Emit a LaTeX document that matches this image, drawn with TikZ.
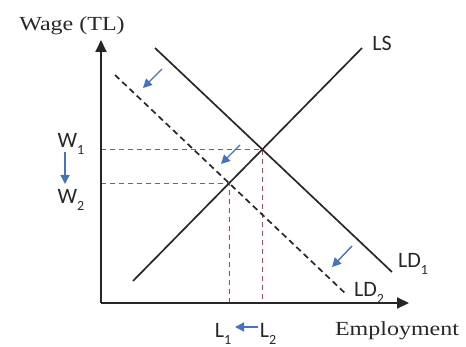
\documentclass[tikz,border=0pt]{standalone}
\usepackage{fontspec}
\setmainfont{Liberation Serif}
\newfontfamily\calib{Carlito}
\usetikzlibrary{arrows.meta}
\definecolor{ln}{RGB}{40,40,40}
\definecolor{rd}{RGB}{215,55,80}
\definecolor{bl}{RGB}{70,115,190}
\newcommand\sbs[1]{\raisebox{-0.3em}{\fontsize{14}{14}\selectfont #1}}
\begin{document}
\begin{tikzpicture}[x=1pt,y=-1pt,
 curve/.style={draw=ln, line width=1.7pt},
 dcurve/.style={curve, dash pattern=on 6pt off 4pt},
 guide/.style={draw=rd, line width=1.2pt, dash pattern=on 5pt off 4pt},
 shiftarr/.style={draw=bl, line width=1.4pt, -{Triangle[length=9pt,width=9pt]}},
 axis/.style={draw=black!85, line width=1.8pt, -{Triangle[length=12pt,width=11pt]}},
 slab/.style={font=\calib\fontsize{22}{22}\selectfont, inner sep=0pt, text=ln},
 tlab/.style={font=\fontsize{20}{20}\selectfont, inner sep=0pt, text=ln}]
\useasboundingbox (0,0) rectangle (466,347);
% axes
\coordinate (O) at (101,303);
\coordinate (Ytop) at (101,40);
\coordinate (Xend) at (409,303);
% curves
\coordinate (LSa) at (133,281);
\coordinate (LSb) at (362,48);
\coordinate (LD1a) at (155,48);
\coordinate (LD1b) at (392,272);
\coordinate (LD2a) at (115,75);
\coordinate (LD2b) at (347,295);
\coordinate (E1) at (intersection of LSa--LSb and LD1a--LD1b);
\coordinate (E2) at (intersection of LSa--LSb and LD2a--LD2b);
\coordinate (W1) at (O |- E1);
\coordinate (W2) at (O |- E2);
\coordinate (L1) at (E2 |- O);
\coordinate (L2) at (E1 |- O);
% guides
\draw[guide] (W1) -- (E1) -- (L2);
\draw[guide] (W2) -- (E2) -- (L1);
% curves
\draw[curve] (LSa) -- (LSb);
\draw[curve] (LD1a) -- (LD1b);
\draw[dcurve] (LD2a) -- (LD2b);
% axes
\draw[axis] (O) -- (Ytop);
\draw[axis] (O) -- (Xend);
% labels
\node[tlab] (ylab) at (72,26) {\scalebox{1.2}[1]{Wage (TL)}};
\node[tlab] (xlab) at (397,331) {\scalebox{1.2}[1]{Employment}};
\node[slab] (lsl) at (382,43) {LS};
\node[slab] (ld1l) at (413,264) {LD\sbs{1}};
\node[slab] (ld2l) at (369,293) {LD\sbs{2}};
\node[slab] (w1l) at (71,144) {W\sbs{1}};
\node[slab] (w2l) at (71,200) {W\sbs{2}};
\node[slab] (l1l) at (223,334) {L\sbs{1}};
\node[slab] (l2l) at (268,334) {L\sbs{2}};
% shift arrows
\coordinate (a1s) at (162,69); \coordinate (a1e) at (143,88);
\coordinate (a2s) at (240,145); \coordinate (a2e) at (221,164);
\coordinate (a3s) at (352,246); \coordinate (a3e) at (332,267);
\coordinate (wa) at (65,152); \coordinate (wb) at (65,184);
\coordinate (la) at (258,327); \coordinate (lb) at (235,327);
\draw[shiftarr] (a1s) -- (a1e);
\draw[shiftarr] (a2s) -- (a2e);
\draw[shiftarr] (a3s) -- (a3e);
\draw[shiftarr] (wa) -- (wb);
\draw[shiftarr] (la) -- (lb);
\end{tikzpicture}
\end{document}
